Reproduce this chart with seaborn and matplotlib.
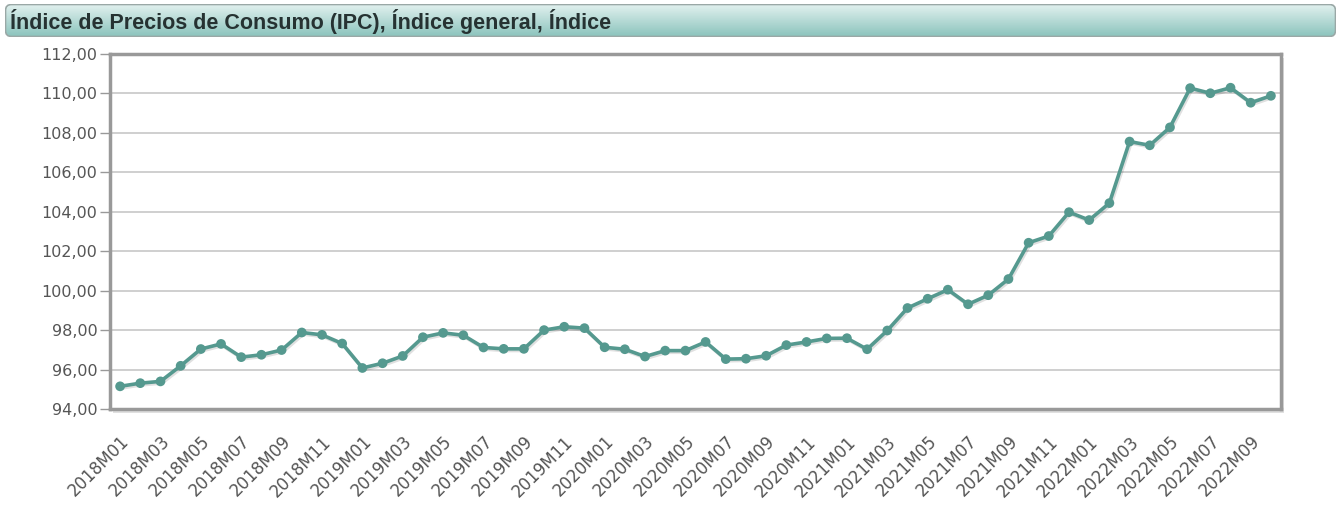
import numpy as np
import matplotlib
import matplotlib.pyplot as plt
import matplotlib.patheffects as pe
from matplotlib.patches import FancyBboxPatch, Rectangle
from matplotlib.ticker import FuncFormatter, FixedLocator
import seaborn as sns

matplotlib.use('Agg')

# Datos
periodos = [f"{a}M{m:02d}" for a in range(2018, 2023) for m in range(1, 13)][:58]
ipc_2018 = [95.15, 95.31, 95.40, 96.19, 97.04, 97.30, 96.63, 96.75, 96.99, 97.88, 97.76, 97.32]
ipc_2019 = [96.08, 96.32, 96.69, 97.64, 97.86, 97.74, 97.12, 97.05, 97.05, 98.00, 98.17, 98.10]
ipc_2020 = [97.13, 97.03, 96.66, 96.96, 96.96, 97.40, 96.53, 96.55, 96.70, 97.24, 97.40, 97.58]
ipc_2021 = [97.59, 97.03, 97.98, 99.12, 99.59, 100.05, 99.31, 99.77, 100.59, 102.43, 102.77, 103.98]
ipc_2022 = [103.58, 104.44, 107.56, 107.37, 108.28, 110.27, 110.01, 110.29, 109.53, 109.88]
ipc = ipc_2018 + ipc_2019 + ipc_2020 + ipc_2021 + ipc_2022
titulo = "Índice de Precios de Consumo (IPC), Índice general, Índice"

sns.set_theme(style="white")
plt.rcParams['font.family'] = ['DejaVu Sans']

W, H = 1342, 508
fig = plt.figure(figsize=(W / 100, H / 100), dpi=100)

# Barra de titulo con degradado
tx0, ty0, tw, th = 5, 4, 1331, 33
tax = fig.add_axes([tx0 / W, 1 - (ty0 + th) / H, tw / W, th / H])
tax.set_xlim(0, tw)
tax.set_ylim(0, th)
tax.axis('off')
grad = np.linspace(0, 1, 64).reshape(-1, 1)
top = np.array(matplotlib.colors.to_rgb('#e2f1ef'))
bot = np.array(matplotlib.colors.to_rgb('#8ac3bc'))
img = top + (bot - top) * grad[..., None]
im = tax.imshow(img, extent=(0, tw, 0, th), aspect='auto', origin='upper')
box = FancyBboxPatch((0.5, 0.5), tw - 1, th - 1, boxstyle='round,pad=0,rounding_size=6',
                     facecolor='none', edgecolor='#9aa8a6', lw=1.2)
tax.add_patch(box)
im.set_clip_path(box)
tax.text(5, th / 2 - 0.5, titulo, fontsize=15.5, fontweight='bold', color='#263232',
         va='center', ha='left', family=['Liberation Sans', 'DejaVu Sans'])

# Grafico
ax_l, ax_r, ax_t, ax_b = 110, 1281, 54, 409
# sombra del marco
fig.add_artist(Rectangle(((ax_l + 3) / W, 1 - (ax_b + 4) / H), (ax_r - ax_l) / W, (ax_b - ax_t) / H,
                         transform=fig.transFigure, facecolor='#e0e0e0', edgecolor='none', zorder=0))
ax = fig.add_axes([ax_l / W, 1 - ax_b / H, (ax_r - ax_l) / W, (ax_b - ax_t) / H], zorder=1)
ax.set_facecolor('white')

sns.lineplot(x=periodos, y=ipc, ax=ax, color='#55998f', lw=2.6, marker='o', markersize=7,
             markeredgewidth=0, sort=False,
             path_effects=[pe.SimpleLineShadow(offset=(1, -1.2), alpha=0.12, shadow_color='black'),
                           pe.Normal()])

ax.set_xlim(-0.5, len(periodos) - 0.5)
ax.set_ylim(94, 112)
ax.set_yticks(np.arange(94, 113, 2))
ax.yaxis.set_major_formatter(FuncFormatter(lambda v, p: f"{v:.2f}".replace('.', ',')))
ax.grid(axis='y', color='#cccccc', lw=1.3)
ax.set_axisbelow(True)

ax.set_xticks(range(0, len(periodos), 2))
ax.set_xticklabels(periodos[::2], rotation=45, ha='right', va='top', rotation_mode='anchor')
ax.xaxis.set_minor_locator(FixedLocator(np.arange(-0.5, len(periodos), 1)))
ax.tick_params(axis='x', which='major', length=0, pad=17, labelsize=12, labelcolor='#555555')
ax.tick_params(axis='x', which='minor', length=6, width=1, color='#bbbbbb', direction='out')
ax.tick_params(axis='y', which='major', length=7, width=1, color='#999999', labelsize=11.5,
               labelcolor='#555555', pad=2, left=True)

for s in ax.spines.values():
    s.set_visible(True)
    s.set_color('#999999')
    s.set_linewidth(2.5)
ax.set_xlabel('')
ax.set_ylabel('')

fig.savefig('out.png', dpi=100)
